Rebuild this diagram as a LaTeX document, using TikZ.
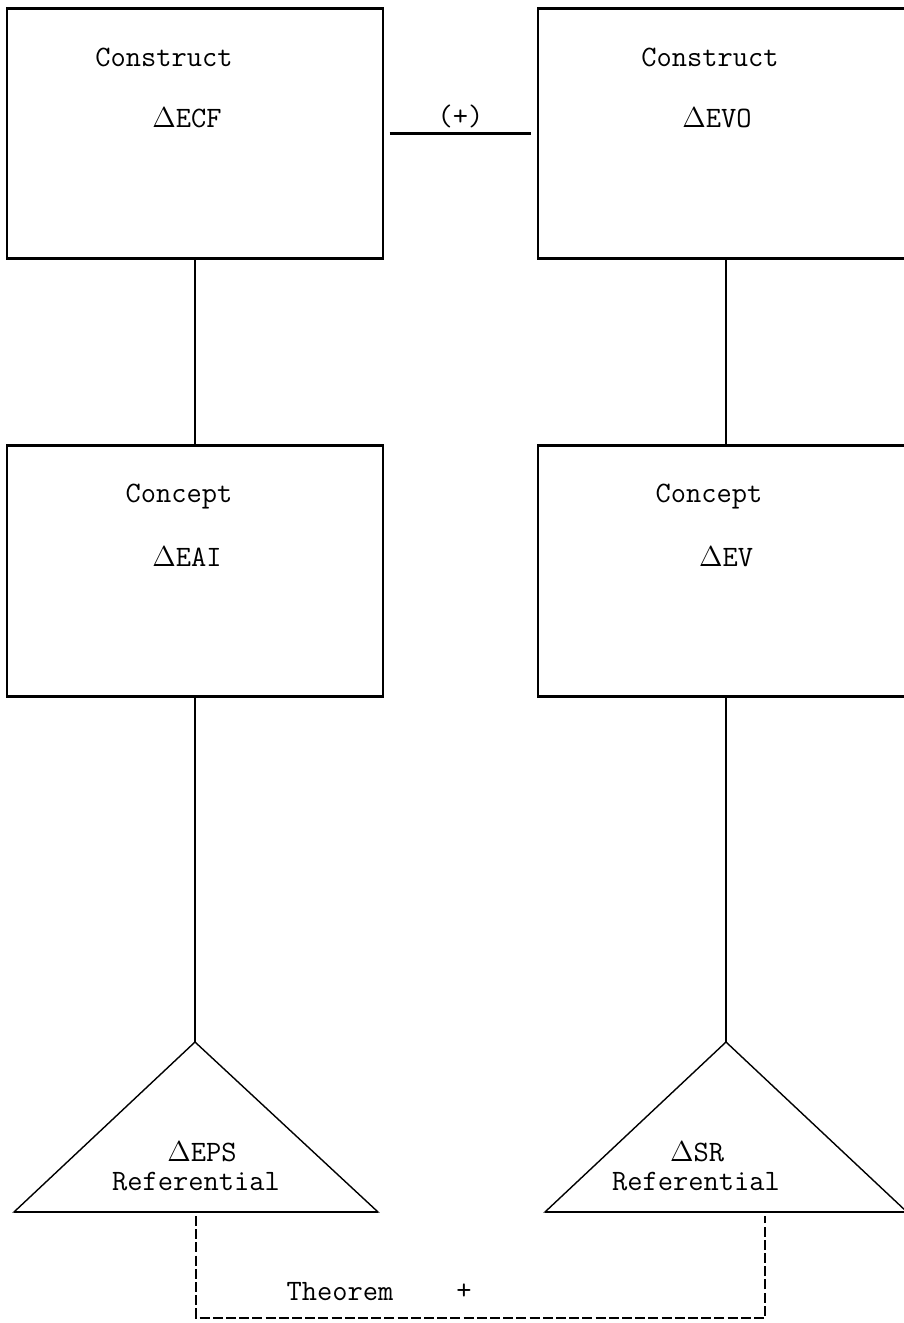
\documentclass[tikz,border=0pt]{standalone}
\usetikzlibrary{positioning}

\tikzset{
  box/.style={draw, line width=.7pt, minimum width=188pt, minimum height=124.5pt, inner sep=0pt},
  lbl/.style={font=\ttfamily\fontsize{14.8}{17}\selectfont, inner sep=0pt},
  rim/.style={line width=1.4pt},
  link/.style={line width=.7pt},
  dashlink/.style={line width=.6pt, dash pattern=on 5pt off 1.6pt}
}
\newcommand{\dlt}{$\Delta$}

\begin{document}
\begin{tikzpicture}[x=.5pt,y=-.5pt]
\useasboundingbox (0,0) rectangle (904,1323);
\clip (0,0) rectangle (904,1323);

% construct boxes
\node[box] (cfL) at (195,133.5) {};
\node[box] (cfR) at (726,133.5) {};
\node[lbl] (tcfL) at (164,57) {Construct};
\node[lbl] (dcfL) at (187,118) {\dlt ECF};
\node[lbl] (tcfR) at (710,57) {Construct};
\node[lbl] (dcfR) at (717,118) {\dlt EVO};

% concept boxes
\node[box] (cpL) at (195,571) {};
\node[box] (cpR) at (726,571) {};
\node[lbl] (tcpL) at (179,497) {Concept};
\node[lbl] (dcpL) at (187,557) {\dlt EAI};
\node[lbl] (tcpR) at (709,497) {Concept};
\node[lbl] (dcpR) at (726,557) {\dlt EV};

\foreach \n in {cfL,cfR,cpL,cpR}
  \draw[rim] (\n.north west) -- (\n.north east) (\n.south west) -- (\n.south east);

% referential triangles
\coordinate (rfL) at (195,1042);
\coordinate (rfR) at (726,1042);
\draw[link] (rfL) -- ++(-181,170) -- ++(364,0) -- cycle;
\draw[link] (rfR) -- ++(-181,170) -- ++(362,0) -- cycle;
\draw[rim] (14,1212) -- (378,1212) (545,1212) -- (907,1212);
\node[lbl] (drfL) at (202,1152) {\dlt EPS};
\node[lbl] (trfL) at (196,1182) {Referential};
\node[lbl] (drfR) at (697,1152) {\dlt SR};
\node[lbl] (trfR) at (696,1182) {Referential};

% connectors
\draw[rim] ([xshift=3pt]cfL.east) -- ([xshift=-3pt]cfR.west)
  node[lbl, midway, above=2pt] (plus) {(+)};
\draw[link] (cfL.south) -- (cpL.north);
\draw[link] (cfR.south) -- (cpR.north);
\draw[link] (cpL.south) -- (rfL);
\draw[link] (cpR.south) -- (rfR);

% theorem link
\coordinate (thL) at (196,1216);
\coordinate (thR) at (765,1216);
\draw[dashlink] (thL) -- ++(0,102) -| (thR);
\node[lbl] (thm) at (340,1292) {Theorem};
\node[lbl] (thp) at (464,1292) {+};
\end{tikzpicture}
\end{document}
